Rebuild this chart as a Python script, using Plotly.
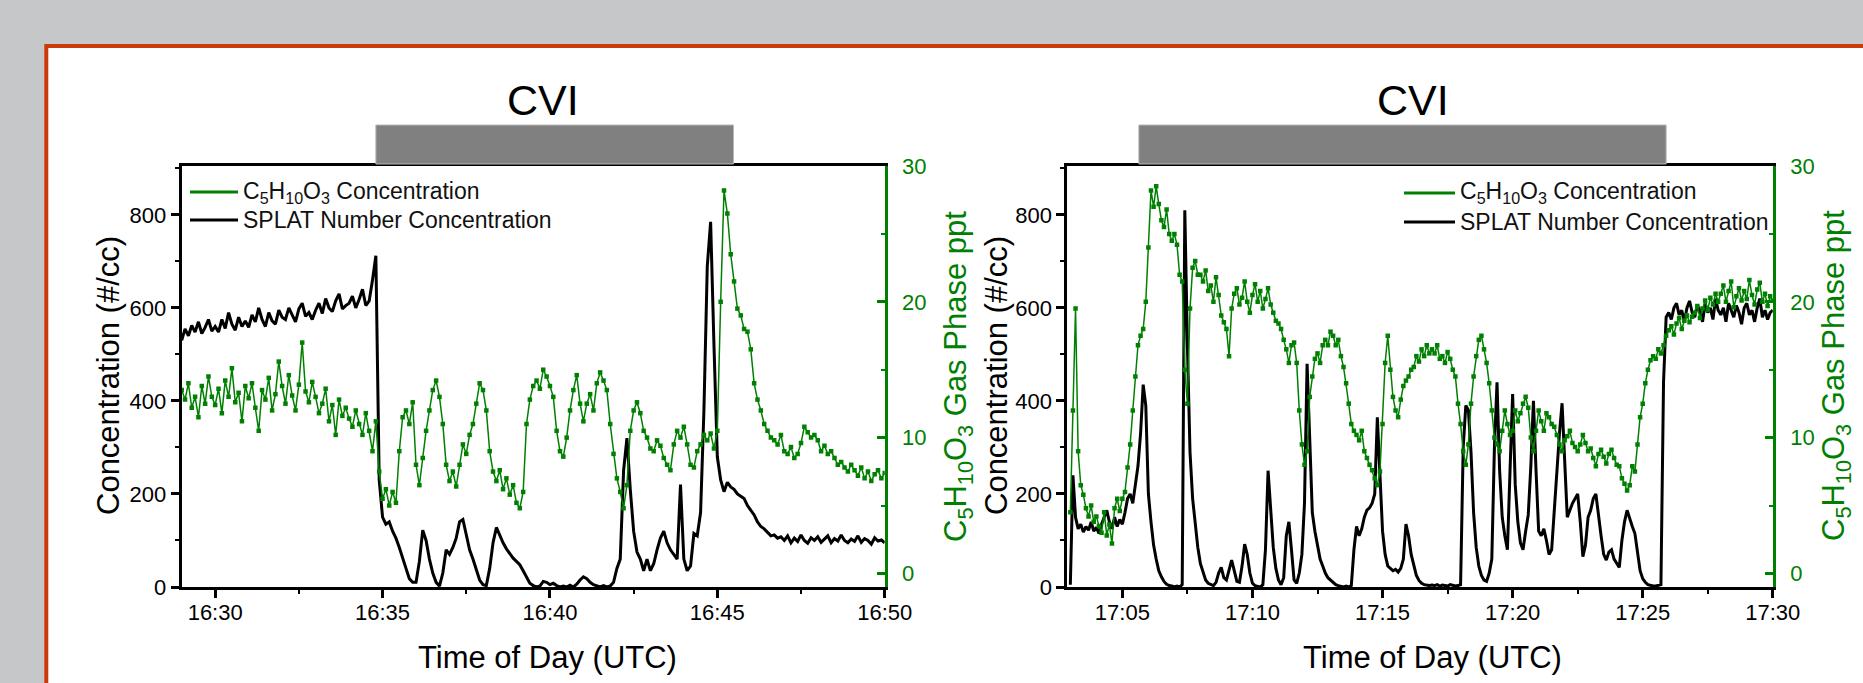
import pandas as pd
import plotly.graph_objects as go

DAY = "2024-01-01 "
STEP = "6s"

# ---------------- data (6-s resolution) ----------------
left_start = "16:29:00"
left_splat = [
    530, 555, 540, 562, 548, 570, 545, 558, 575, 550,
    560, 548, 575, 556, 590, 565, 552, 580, 560, 572,
    558, 585, 570, 600, 575, 560, 590, 572, 565, 595,
    580, 575, 600, 585, 570, 598, 610, 582, 590, 575,
    595, 610, 588, 620, 600, 592, 615, 630, 598, 605,
    610, 625, 600, 618, 640, 605, 615, 660, 712, 230,
    150, 135, 140, 120, 105, 85, 60, 40, 18, 10,
    10, 55, 122, 100, 60, 30, 10, 2, 30, 80,
    70, 85, 105, 140, 145, 110, 80, 60, 35, 15,
    5, 3, 40, 95, 128, 110, 95, 82, 72, 62,
    55, 48, 35, 22, 8, 3, 0, 2, 12, 10,
    5, 8, 3, 0, 2, 0, 4, 0, 6, 15,
    22, 18, 10, 5, 2, 0, 3, 0, 2, 10,
    40, 60, 250, 320, 210, 120, 75, 60, 35, 60,
    35, 50, 80, 105, 120, 95, 80, 70, 60, 220,
    60, 35, 45, 115, 110, 160, 380, 690, 785, 520,
    280, 230, 205, 225, 215, 210, 200, 195, 190, 175,
    165, 155, 140, 130, 125, 118, 110, 112, 105, 108,
    100, 110, 95, 105, 98, 112, 100, 94, 106, 100,
    108, 96, 102, 110, 95, 104, 99, 112, 100, 95,
    103, 98, 110, 96, 104, 100, 92, 106, 99, 101,
    95,
]
left_c5 = [
    13.5, 12.8, 14.0, 12.2, 13.0, 11.5, 13.8, 12.5, 14.5, 13.0,
    12.4, 13.6, 11.8, 14.2, 13.0, 15.1, 12.6, 13.3, 11.2, 13.8,
    12.9, 14.0, 12.2, 10.5, 13.5, 12.8, 14.4, 12.0, 13.2, 15.6,
    13.8, 12.5, 14.6, 13.1, 12.0, 13.9, 17.0, 13.4, 12.6, 14.1,
    13.0, 11.8, 12.5, 13.6, 11.2, 12.4, 10.2, 12.8, 11.6, 12.2,
    11.4, 10.8, 12.0, 11.0, 10.2, 11.8, 10.5, 9.0, 11.2, 7.5,
    5.5, 6.2, 5.0, 6.0, 5.2, 9.0, 11.5, 12.0, 11.0, 12.6,
    8.0, 6.5, 8.5, 10.5, 12.0, 13.5, 14.2, 13.0, 11.0, 8.0,
    6.8, 7.5, 6.4, 8.0, 9.5, 8.8, 10.2, 11.0, 12.5, 14.0,
    13.5, 12.0, 9.0, 7.5, 6.8, 7.6, 6.2, 7.0, 5.8, 6.5,
    5.2, 4.8, 6.0, 11.0, 12.8, 13.8, 14.2, 13.6, 15.0, 14.5,
    13.8, 13.0, 10.5, 9.0, 8.6, 10.0, 12.0, 13.5, 14.6, 12.5,
    11.2, 12.5, 13.2, 12.0, 14.0, 14.8, 14.2, 13.5, 11.0, 8.8,
    7.0, 6.0, 4.8, 6.5, 10.5, 12.0, 12.6, 11.8, 10.5, 10.0,
    9.2, 9.0, 9.8, 9.4, 8.5, 8.0, 7.6, 9.5, 10.5, 10.0,
    10.8, 9.5, 8.0, 7.8, 9.0, 9.5, 10.2, 9.8, 10.3, 9.2,
    10.5, 20.0, 28.2, 26.5, 23.5, 21.5, 19.5, 19.0, 18.0, 17.8,
    16.5, 14.0, 12.8, 12.0, 11.0, 10.5, 10.0, 9.8, 9.5, 10.2,
    9.0, 8.8, 9.3, 8.5, 8.8, 9.6, 10.8, 10.4, 10.0, 10.2,
    9.8, 9.0, 9.4, 8.8, 9.0, 8.5, 8.0, 8.2, 7.8, 7.5,
    8.0, 7.6, 7.2, 7.8, 7.0, 7.5, 6.8, 7.3, 7.6, 7.0,
    7.4,
]

right_start = "17:03:00"
right_splat = [
    5, 240, 150, 125, 135, 118, 130, 122, 140, 120,
    128, 115, 135, 150, 165, 140, 125, 150, 130, 145,
    135, 160, 190, 200, 180, 220, 260, 330, 435, 390,
    200, 140, 90, 60, 35, 22, 12, 6, 3, 2,
    0, 2, 0, 5, 810, 520, 290, 190, 130, 85,
    50, 30, 15, 8, 5, 3, 10, 30, 42, 20,
    15, 40, 58, 35, 12, 10, 45, 92, 70, 30,
    8, 3, 2, 0, 5, 80, 250, 170, 85, 40,
    15, 5, 20, 110, 140, 80, 15, 8, 30, 70,
    180, 480, 300, 160, 120, 85, 60, 45, 30, 20,
    15, 8, 5, 3, 2, 0, 2, 0, 3, 80,
    130, 110, 125, 150, 165, 170, 180, 200, 365, 250,
    120, 70, 45, 40, 35, 38, 32, 40, 60, 135,
    110, 70, 45, 25, 14, 8, 5, 4, 3, 4,
    3, 5, 2, 4, 3, 2, 5, 3, 2, 3,
    5, 300, 390, 380, 290, 160, 85, 45, 25, 15,
    12, 30, 60, 300, 440, 250, 150, 110, 80, 250,
    415, 220, 140, 95, 80, 120, 155, 260, 400, 250,
    120, 110, 125, 100, 70, 80, 170, 240, 330, 395,
    260, 150, 165, 180, 190, 200, 140, 65, 90, 150,
    165, 190, 200, 150, 110, 70, 58, 75, 80, 60,
    50, 42, 100, 140, 165, 145, 130, 115, 75, 35,
    18, 10, 5, 3, 2, 2, 3, 5, 440, 580,
    590, 575, 600, 610, 585, 595, 570, 600, 615, 590,
    580, 605, 595, 570, 610, 590, 600, 575, 620, 595,
    585, 600, 570, 610, 595, 580, 605, 590, 565, 600,
    610, 585, 595, 570, 600, 620, 580, 595, 575, 590,
    595,
]
right_c5 = [
    4.5, 12.0, 19.5, 9.0, 6.5, 5.8, 4.8, 4.2, 5.0, 3.8,
    4.2, 3.5, 3.0, 4.5, 2.8, 3.6, 2.2, 4.8, 5.5, 4.6,
    5.5, 6.0, 7.8, 9.5, 12.0, 14.5, 16.8, 17.5, 18.0, 20.0,
    24.0, 28.2, 27.0, 28.5, 27.2, 26.0, 25.5, 26.8, 25.0, 24.5,
    25.0, 24.2, 22.0, 21.5, 15.0, 12.5, 19.5, 22.5, 23.0, 22.0,
    22.0, 21.5, 22.3, 20.8, 21.2, 20.0, 21.8, 20.5, 19.0, 18.5,
    18.0, 16.0, 19.5, 20.6, 21.0, 19.8, 20.3, 21.5, 20.0, 19.2,
    20.5, 21.3, 20.0, 20.8, 19.5, 20.2, 21.0, 19.8, 19.2, 18.6,
    18.4, 18.0, 17.2, 16.5, 15.5, 16.8, 17.0, 15.5, 12.0, 9.5,
    8.0, 9.0, 13.0, 14.5, 15.8, 16.2, 15.5, 16.8, 17.2, 16.8,
    17.8, 17.5, 16.8, 17.2, 16.0, 15.2, 14.0, 12.5, 11.0, 10.5,
    10.2, 9.8, 10.5, 9.0, 8.5, 8.0, 7.6, 7.0, 6.5, 7.5,
    11.0, 15.5, 17.5, 15.0, 13.0, 12.0, 11.5, 12.8, 13.8, 14.2,
    14.5, 15.0, 15.2, 16.0, 15.6, 16.5, 16.0, 16.8, 16.2, 16.5,
    16.2, 16.8, 15.8, 16.0, 15.5, 16.3, 15.8, 15.0, 14.5, 12.5,
    11.0, 9.0, 8.0, 9.5, 12.5, 14.5, 16.0, 17.2, 17.5, 16.5,
    15.5, 14.0, 12.0, 10.0, 9.5, 9.0, 10.5, 12.0, 11.0, 10.2,
    10.5, 12.0, 11.2, 11.8, 12.5, 13.0, 12.2, 10.0, 9.0, 10.5,
    12.0, 11.2, 10.5, 11.8, 11.5, 11.0, 10.8, 10.2, 9.5, 9.0,
    9.8, 10.1, 10.5, 9.6, 9.3, 9.0, 9.5, 10.2, 9.6, 9.0,
    9.2, 8.5, 7.9, 8.8, 9.1, 8.6, 8.1, 8.8, 9.1, 8.5,
    8.0, 7.9, 7.0, 6.6, 6.1, 6.5, 7.9, 7.5, 9.5, 11.5,
    12.5, 14.0, 15.0, 15.7, 16.0, 15.8, 16.5, 16.2, 16.8, 17.5,
    17.9, 18.2, 17.6, 18.4, 18.8, 18.0, 18.6, 19.0, 18.5, 18.9,
    19.2, 19.7, 18.8, 19.5, 20.1, 19.4, 20.3, 19.8, 20.6, 20.0,
    20.6, 21.2, 20.0, 20.8, 21.5, 19.6, 20.4, 21.0, 20.1, 20.8,
    20.2, 21.6, 20.5, 19.8, 20.9, 21.4, 20.0, 20.6, 19.7, 20.4,
    20.1,
]

left_x_range = ["16:29:00", "16:50:00"]
right_x_range = ["17:02:53", "17:30:00"]
left_first_tick = "16:30:00"
right_first_tick = "17:05:00"
cvi_left = ["16:34:48", "16:45:29"]
cvi_right = ["17:05:38", "17:25:54"]
conc_range = [0, 905]
gas_range = [-1, 30]

# ---------------- styling ----------------
W, H = 1863, 683
FONT = "Liberation Sans, Arial, sans-serif"
GREEN = "#008000"
BLACK = "#000000"


def px(x):
    return x / W


def py(y):
    return 1 - y / H


tL = pd.date_range(DAY + left_start, periods=len(left_splat), freq=STEP)
tR = pd.date_range(DAY + right_start, periods=len(right_splat), freq=STEP)

fig = go.Figure()
for t, splat, c5, xa, ya, yb in ((tL, left_splat, left_c5, "x", "y", "y2"),
                                  (tR, right_splat, right_c5, "x2", "y3", "y4")):
    fig.add_trace(go.Scatter(x=t, y=splat, mode="lines", name="SPLAT Number Concentration",
                             line=dict(color=BLACK, width=3), xaxis=xa, yaxis=ya,
                             showlegend=False))
    fig.add_trace(go.Scatter(x=t, y=c5, mode="lines+markers", name="C5H10O3 Concentration",
                             line=dict(color=GREEN, width=1.5),
                             marker=dict(symbol="square", size=4.5, color=GREEN),
                             xaxis=xa, yaxis=yb, showlegend=False))

ydom = [py(587), py(166)]
xdomL = [px(181.7), px(884.7)]
xdomR = [px(1067.3), px(1772.8)]

tickfont = dict(family=FONT, size=22, color=BLACK)
gtickfont = dict(family=FONT, size=22, color=GREEN)


def xaxis_cfg(dom, anchor, rng, first):
    return dict(domain=dom, anchor=anchor, type="date", automargin=False,
                range=[DAY + rng[0], DAY + rng[1]],
                tick0=DAY + first, dtick=300000, tickformat="%H:%M",
                ticks="outside", ticklen=8, tickwidth=2.5, tickcolor=BLACK,
                ticklabelstandoff=-4,
                showline=True, linecolor=BLACK, linewidth=3, mirror=True,
                showgrid=False, zeroline=False, tickfont=tickfont,
                minor=dict(dtick=150000, tick0=DAY + first, ticks="outside",
                           ticklen=4, tickwidth=2, tickcolor=BLACK, showgrid=False))


def yleft_cfg(anchor):
    return dict(domain=ydom, anchor=anchor, range=conc_range, tick0=0, dtick=200,
                automargin=False,
                ticks="outside", ticklen=8, tickwidth=2.5, tickcolor=BLACK,
                showline=True, linecolor=BLACK, linewidth=3,
                showgrid=False, zeroline=False, tickfont=tickfont,
                minor=dict(dtick=100, tick0=0, ticks="outside", ticklen=4,
                           tickwidth=2, tickcolor=BLACK, showgrid=False))


def yright_cfg(anchor, over):
    return dict(anchor=anchor, overlaying=over, side="right", range=gas_range,
                automargin=False, ticklabelstandoff=10,
                tick0=0, dtick=10, ticks="inside", ticklen=8, tickwidth=2.5,
                tickcolor=GREEN, showline=True, linecolor=GREEN, linewidth=3,
                showgrid=False, zeroline=False, tickfont=gtickfont,
                minor=dict(dtick=5, tick0=0, ticks="inside", ticklen=4,
                           tickwidth=2, tickcolor=GREEN, showgrid=False))


shapes = [
    dict(type="rect", xref="paper", yref="paper", x0=px(46.3), x1=1.05, y0=-0.05, y1=py(46),
         fillcolor="white", line=dict(color="#cc3a0a", width=4), layer="below"),
    dict(type="rect", xref="x", yref="paper", x0=DAY + cvi_left[0], x1=DAY + cvi_left[1],
         y0=py(164), y1=py(125), fillcolor="#808080", line=dict(color="#b8b8b8", width=1),
         layer="above"),
    dict(type="rect", xref="x2", yref="paper", x0=DAY + cvi_right[0], x1=DAY + cvi_right[1],
         y0=py(164), y1=py(125), fillcolor="#808080", line=dict(color="#b8b8b8", width=1),
         layer="above"),
]

# legend samples (drawn by hand, like the original's Origin legend)
legend_defs = [
    (190, 238, 241, 192, 220),
    (1404, 1455, 1458, 193, 222),
]
annotations = []
leg_labels = ["C<sub>5</sub>H<sub>10</sub>O<sub>3</sub> Concentration", "SPLAT Number Concentration"]
for x0, x1, xt, y1r, y2r in legend_defs:
    for yy, col, lab in ((y1r, GREEN, leg_labels[0]), (y2r, BLACK, leg_labels[1])):
        shapes.append(dict(type="line", xref="paper", yref="paper", x0=px(x0), x1=px(x1),
                           y0=py(yy), y1=py(yy), line=dict(color=col, width=3)))
        annotations.append(dict(xref="paper", yref="paper", x=px(xt), y=py(yy), text=lab,
                                showarrow=False, xanchor="left", yanchor="middle",
                                font=dict(family=FONT, size=23, color="#111111")))

title_font = dict(family=FONT, size=31, color=BLACK)
gtitle_font = dict(family=FONT, size=31, color=GREEN)
for cx in (542.5, 1413):
    annotations.append(dict(xref="paper", yref="paper", x=px(cx), y=py(100), text="CVI",
                            showarrow=False, xanchor="center", yanchor="middle",
                            font=dict(family=FONT, size=43, color=BLACK)))
for cx in (547, 1432):
    annotations.append(dict(xref="paper", yref="paper", x=px(cx), y=py(657),
                            text="Time of Day (UTC)", showarrow=False,
                            xanchor="center", yanchor="middle", font=title_font))
for cx in (108, 996):
    annotations.append(dict(xref="paper", yref="paper", x=px(cx), y=py(376),
                            text="Concentration (#/cc)", textangle=-90, showarrow=False,
                            xanchor="center", yanchor="middle", font=title_font))
for cx in (958, 1836):
    annotations.append(dict(xref="paper", yref="paper", x=px(cx), y=py(376),
                            text="C<sub>5</sub>H<sub>10</sub>O<sub>3</sub> Gas Phase ppt",
                            textangle=-90, showarrow=False,
                            xanchor="center", yanchor="middle", font=gtitle_font))

fig.update_layout(
    width=W, height=H, margin=dict(l=0, r=0, t=0, b=0, autoexpand=False),
    paper_bgcolor="#c6c7c9", plot_bgcolor="white",
    font=dict(family=FONT, color=BLACK),
    showlegend=False,
    xaxis=xaxis_cfg(xdomL, "y", left_x_range, left_first_tick),
    yaxis=yleft_cfg("x"),
    yaxis2=yright_cfg("x", "y"),
    xaxis2=xaxis_cfg(xdomR, "y3", right_x_range, right_first_tick),
    yaxis3=yleft_cfg("x2"),
    yaxis4=yright_cfg("x2", "y3"),
    shapes=shapes,
    annotations=annotations,
)

fig.write_html("out.html")
